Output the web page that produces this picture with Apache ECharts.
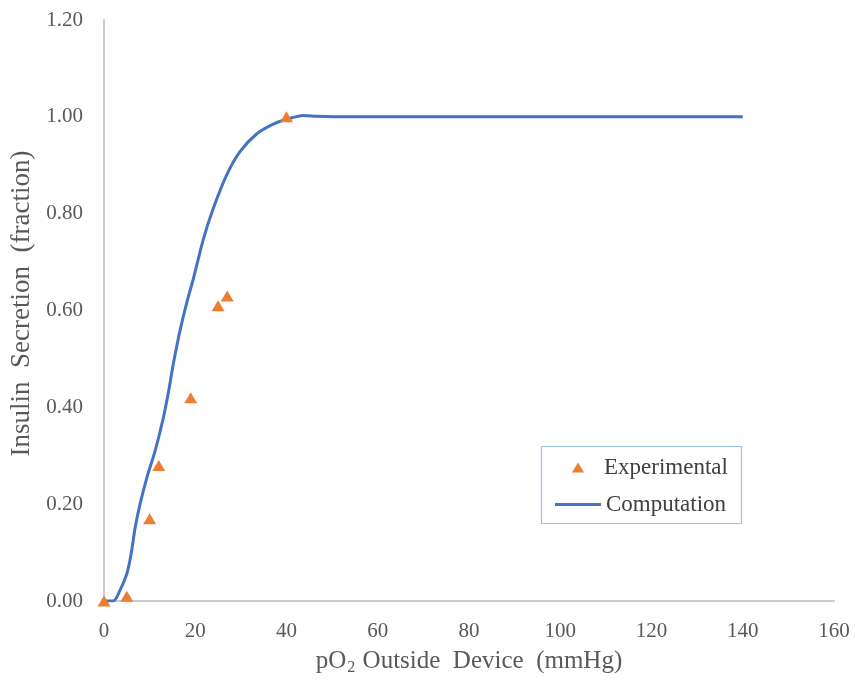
<!DOCTYPE html>
<html>
<head>
<meta charset="utf-8">
<script src="https://cdn.jsdelivr.net/npm/echarts@6/dist/echarts.min.js"></script>
<style>html,body{margin:0;padding:0;background:#fff}#c{width:855px;height:681px}</style>
</head>
<body>
<div id="c"></div>
<script>
// Experimental data (triangles)
const expX = [0, 5, 10, 12, 19, 25, 27, 40];
const expY = [0.00, 0.01, 0.17, 0.28, 0.42, 0.61, 0.63, 1.00];
// Computation curve
const compX = [0, 2, 3.5, 5, 6, 6.8, 7.9, 9.4, 11.2, 13, 14.1, 15.2, 16.7, 18.3, 19.6, 21.8, 24, 26.9, 29.8, 33.5, 37.1, 40.1, 43.7, 46.6, 50.3, 60, 80, 100, 120, 140];
const compY = [0, 0, 0.022, 0.056, 0.1, 0.15, 0.2, 0.255, 0.31, 0.378, 0.43, 0.49, 0.56, 0.622, 0.666, 0.748, 0.812, 0.88, 0.928, 0.965, 0.985, 0.995, 1.003, 1.001, 1.0, 1.0, 1.0, 1.0, 1.0, 1.0];
const seriesNames = ['Experimental', 'Computation'];
const xTitle = '{m|pO}{s|2}{m| Outside  Device  (mmHg)}';
const yTitle = 'Insulin  Secretion  (fraction)';

const serif = '"Liberation Serif", "Times New Roman", serif';
const chart = echarts.init(document.getElementById('c'), null, {renderer: 'canvas'});
chart.setOption({
  animation: false,
  backgroundColor: '#ffffff',
  grid: {left: 104, right: 21, top: 20, bottom: 77, containLabel: false},
  xAxis: {
    type: 'value', min: 0, max: 160, interval: 20,
    axisLine: {show: true, lineStyle: {color: '#cccccc', width: 2}},
    axisTick: {show: false},
    splitLine: {show: false},
    axisLabel: {color: '#595959', fontFamily: serif, fontSize: 21, margin: 20},
    name: xTitle, nameLocation: 'middle', nameGap: 45,
    nameTextStyle: {
      color: '#595959', fontFamily: serif, fontSize: 25,
      rich: {
        m: {color: '#595959', fontFamily: serif, fontSize: 25},
        s: {color: '#595959', fontFamily: serif, fontSize: 16, padding: [14, 1, 0, 1]}
      }
    }
  },
  yAxis: {
    type: 'value', min: 0, max: 1.2, interval: 0.2,
    axisLine: {show: true, lineStyle: {color: '#cccccc', width: 2}},
    axisTick: {show: false},
    splitLine: {show: false},
    axisLabel: {color: '#595959', fontFamily: serif, fontSize: 21, margin: 21,
      formatter: v => v.toFixed(2)},
    name: yTitle, nameLocation: 'middle', nameGap: 68, nameRotate: 90,
    nameTextStyle: {color: '#595959', fontFamily: serif, fontSize: 27, padding: [0, 0, 0, 14]}
  },
  legend: [
    {
      data: [{name: seriesNames[0], icon: 'triangle'}],
      left: 572, top: 456, padding: 0,
      itemWidth: 12, itemHeight: 10,
      textStyle: {color: '#404040', fontFamily: serif, fontSize: 23, padding: [0, 0, 0, 15]},
      selectedMode: false
    },
    {
      data: [{name: seriesNames[1], icon: 'rect'}],
      left: 555, top: 493, padding: 0,
      itemWidth: 46, itemHeight: 3,
      textStyle: {color: '#404040', fontFamily: serif, fontSize: 23},
      selectedMode: false
    }
  ],
  graphic: [{
    type: 'rect', z: -1, silent: true,
    shape: {x: 541.5, y: 446.5, width: 200, height: 77},
    style: {fill: 'none', stroke: '#9dc3e6', lineWidth: 1.2}
  }],
  series: [
    {
      name: seriesNames[1], type: 'line', z: 2,
      data: compX.map((x, i) => [x, compY[i]]),
      showSymbol: false, smooth: 0.3,
      lineStyle: {color: '#4472c4', width: 3},
      itemStyle: {color: '#4472c4'}
    },
    {
      name: seriesNames[0], type: 'scatter', z: 3,
      data: expX.map((x, i) => [x, expY[i]]),
      symbol: 'triangle', symbolSize: [13, 11],
      itemStyle: {color: '#ed7d31', opacity: 1}
    }
  ]
});
</script>
</body>
</html>
